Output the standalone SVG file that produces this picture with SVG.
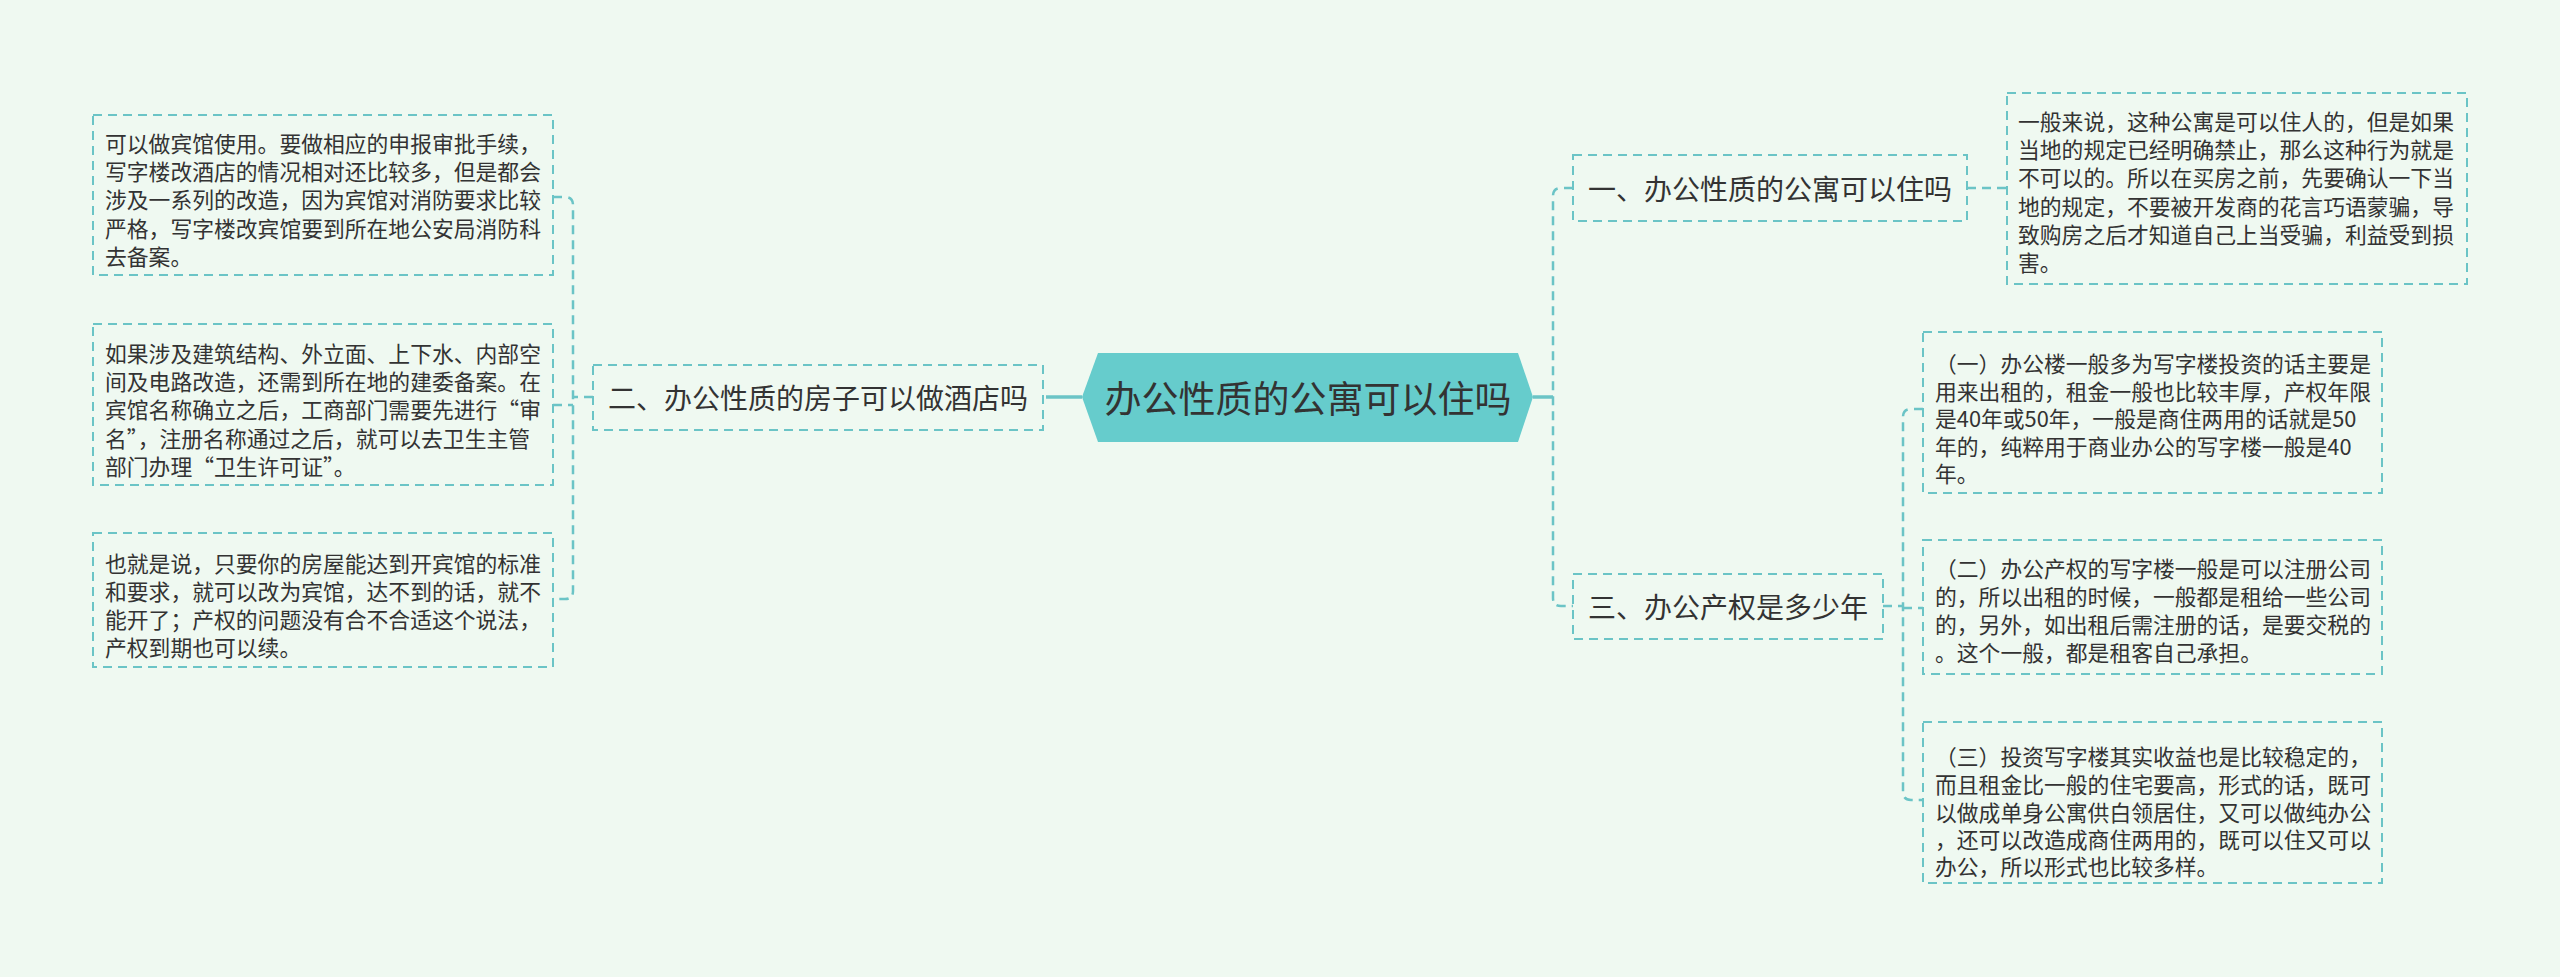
<svg xmlns="http://www.w3.org/2000/svg" width="2560" height="977" viewBox="0 0 2560 977" xml:lang="zh-CN" lang="zh-CN">
<style>
.bg{fill:#EFF9F1}
.box{fill:none;stroke:#6BC4C6;stroke-width:2;stroke-dasharray:9 6}
.conn{fill:none;stroke:#6BC4C6;stroke-width:2.5;stroke-dasharray:9 6}
.solid{fill:none;stroke:#6BC4C6;stroke-width:3.5}
.leaf{font-family:"Noto Sans CJK SC","Noto Sans",sans-serif;font-size:21.8px;fill:#333333;dominant-baseline:central}
.fw{font-feature-settings:"fwid" 1}
.topic{font-family:"Noto Sans CJK SC","Noto Sans",sans-serif;font-size:28px;fill:#333333;dominant-baseline:central;text-anchor:middle}
.center{font-family:"Noto Sans CJK SC","Noto Sans",sans-serif;font-size:37px;fill:#333333;dominant-baseline:central;text-anchor:middle}
</style>
<rect class="bg" x="0" y="0" width="2560" height="977"/>
<g id="connectors">
<path class="solid" d="M1046 397 H1082"/>
<path class="conn" d="M593 397 H573"/>
<path class="conn" d="M553 197 H565 Q573 197 573 205 V591 Q573 599 565 599 H553"/>
<path class="conn" d="M553 405 H573"/>
<path class="solid" d="M1533 397 H1553"/>
<path class="conn" d="M1573 188 H1561 Q1553 188 1553 196 V598 Q1553 606 1561 606 H1573"/>
<path class="conn" d="M1967 188 H2007"/>
<path class="conn" d="M1883 606 H1903"/>
<path class="conn" d="M1923 409 H1911 Q1903 409 1903 417 V792 Q1903 800 1911 800 H1923"/>
<path class="conn" d="M1903 608 H1923"/>
</g>
<g id="center">
<polygon points="1082,397 1098,353 1518,353 1533,397 1518,442 1098,442" fill="#66CCCC"/>
<text class="center" x="1308" y="397">办公性质的公寓可以住吗</text>
</g>
<g id="topic2">
<rect class="box" x="593" y="365" width="450" height="65"/>
<text class="topic" x="818" y="397">二、办公性质的房子可以做酒店吗</text>
</g>
<g id="topic1">
<rect class="box" x="1573" y="155" width="394" height="66"/>
<text class="topic" x="1770" y="188">一、办公性质的公寓可以住吗</text>
</g>
<g id="topic3">
<rect class="box" x="1573" y="574" width="310" height="65"/>
<text class="topic" x="1728" y="606">三、办公产权是多少年</text>
</g>
<g id="leaf2a">
<rect class="box" x="93" y="115" width="460" height="160"/>
<text class="leaf" x="105" y="142">可以做宾馆使用。要做相应的申报审批手续，</text>
<text class="leaf" x="105" y="170">写字楼改酒店的情况相对还比较多，但是都会</text>
<text class="leaf" x="105" y="198">涉及一系列的改造，因为宾馆对消防要求比较</text>
<text class="leaf" x="105" y="227">严格，写字楼改宾馆要到所在地公安局消防科</text>
<text class="leaf" x="105" y="255">去备案。</text>
</g>
<g id="leaf2b">
<rect class="box" x="93" y="324" width="460" height="161"/>
<text class="leaf" x="105" y="352">如果涉及建筑结构、外立面、上下水、内部空</text>
<text class="leaf" x="105" y="380">间及电路改造，还需到所在地的建委备案。在</text>
<text class="leaf fw" x="105" y="408">宾馆名称确立之后，工商部门需要先进行“审</text>
<text class="leaf fw" x="105" y="437">名”，注册名称通过之后，就可以去卫生主管</text>
<text class="leaf fw" x="105" y="465">部门办理“卫生许可证”。</text>
</g>
<g id="leaf2c">
<rect class="box" x="93" y="533" width="460" height="134"/>
<text class="leaf" x="105" y="562">也就是说，只要你的房屋能达到开宾馆的标准</text>
<text class="leaf" x="105" y="590">和要求，就可以改为宾馆，达不到的话，就不</text>
<text class="leaf" x="105" y="618">能开了；产权的问题没有合不合适这个说法，</text>
<text class="leaf" x="105" y="646">产权到期也可以续。</text>
</g>
<g id="leaf1">
<rect class="box" x="2007" y="93" width="460" height="191"/>
<text class="leaf" x="2018" y="120">一般来说，这种公寓是可以住人的，但是如果</text>
<text class="leaf" x="2018" y="148">当地的规定已经明确禁止，那么这种行为就是</text>
<text class="leaf" x="2018" y="176">不可以的。所以在买房之前，先要确认一下当</text>
<text class="leaf" x="2018" y="205">地的规定，不要被开发商的花言巧语蒙骗，导</text>
<text class="leaf" x="2018" y="233">致购房之后才知道自己上当受骗，利益受到损</text>
<text class="leaf" x="2018" y="261">害。</text>
</g>
<g id="leaf3a">
<rect class="box" x="1923" y="332" width="459" height="161"/>
<text class="leaf" x="1935" y="362">（一）办公楼一般多为写字楼投资的话主要是</text>
<text class="leaf" x="1935" y="390">用来出租的，租金一般也比较丰厚，产权年限</text>
<text class="leaf" x="1935" y="417">是40年或50年，一般是商住两用的话就是50</text>
<text class="leaf" x="1935" y="445">年的，纯粹用于商业办公的写字楼一般是40</text>
<text class="leaf" x="1935" y="472">年。</text>
</g>
<g id="leaf3b">
<rect class="box" x="1923" y="540" width="459" height="134"/>
<text class="leaf" x="1935" y="567">（二）办公产权的写字楼一般是可以注册公司</text>
<text class="leaf" x="1935" y="595">的，所以出租的时候，一般都是租给一些公司</text>
<text class="leaf" x="1935" y="623">的，另外，如出租后需注册的话，是要交税的</text>
<text class="leaf" x="1935" y="651">。这个一般，都是租客自己承担。</text>
</g>
<g id="leaf3c">
<rect class="box" x="1923" y="722" width="459" height="161"/>
<text class="leaf" x="1935" y="755">（三）投资写字楼其实收益也是比较稳定的，</text>
<text class="leaf" x="1935" y="783">而且租金比一般的住宅要高，形式的话，既可</text>
<text class="leaf" x="1935" y="811">以做成单身公寓供白领居住，又可以做纯办公</text>
<text class="leaf" x="1935" y="838">，还可以改造成商住两用的，既可以住又可以</text>
<text class="leaf" x="1935" y="865">办公，所以形式也比较多样。</text>
</g>
</svg>
